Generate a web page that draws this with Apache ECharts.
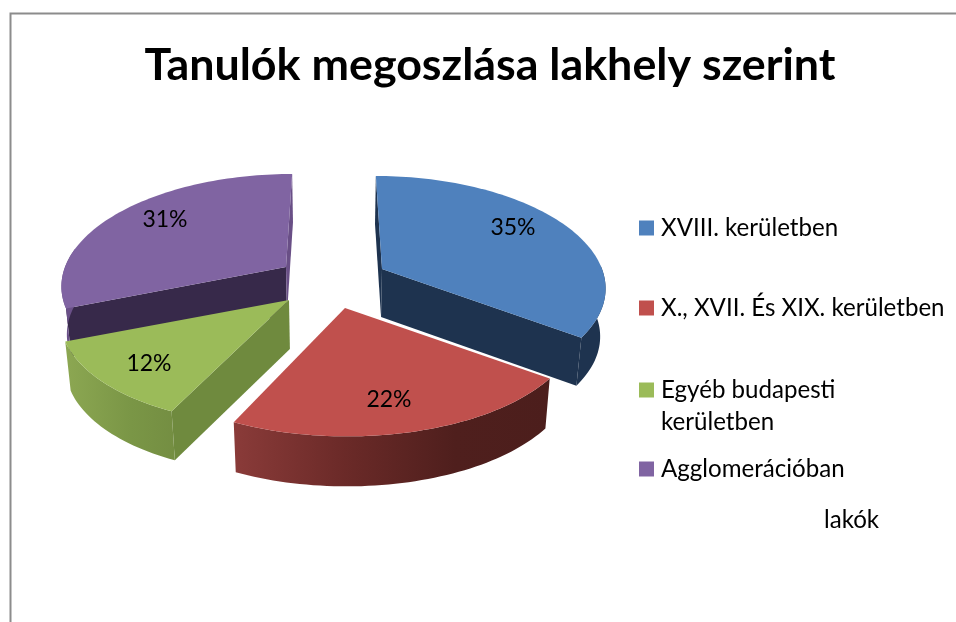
<!DOCTYPE html>
<html>
<head>
<meta charset="utf-8">
<style>html,body{margin:0;padding:0;background:#fff}#c{width:956px;height:622px}</style>
<script src="https://cdn.jsdelivr.net/npm/echarts@6/dist/echarts.min.js"></script>
</head>
<body>
<div id="c"></div>
<script>
var titleText = 'Tanulók megoszlása lakhely szerint';
var categories = ['XVIII. kerületben', 'X., XVII. És XIX. kerületben', 'Egyéb budapesti\nkerületben', 'Agglomerációban'];
var shares = [35, 22, 12, 31];
var unitNote = 'lakók';

var FONT = 'Lato, Carlito, "Open Sans", sans-serif';
var colors = ['#4f81bd', '#c0504d', '#9bbb59', '#8064a2'];
var grad = function (stops) {
  return new echarts.graphic.LinearGradient(0, 0, 1, 0, stops.map(function (c) {
    return { offset: c[0], color: c[1] };
  }));
};
/* exploded position of each slice, its size, side shading and label anchor */
var sliceStyle = [
  { apex: [382, 269], rx: 220, ry: 106.7, depth: 48, z: 1, faceA: '#1e334f', faceB: '#1e334f', rim: '#1e334f', label: [513, 228] },
  { apex: [345, 308], rx: 230, ry: 109.5, depth: 50, z: 4, faceA: null, faceB: null,
    rim: grad([[0, '#8a3b39'], [0.35, '#6b2a28'], [0.7, '#4f1f1d'], [1, '#4c1e1c']]), label: [389, 400] },
  { apex: [289, 300], rx: 225, ry: 106.7, depth: 49, z: 3, faceA: '#6f8a3e', faceB: null,
    rim: grad([[0, '#8ca752'], [0.6, '#7a9646'], [1, '#748e42']]), label: [149, 364] },
  { apex: [286, 267], rx: 221, ry: 106.7, depth: 48, z: 2, faceA: '#37294a', faceB: '#694f86', rim: '#6a5088', label: [165, 220] }
];
var PERSP = 0.147, VANISH_X = 334, BOTTOM_SCALE = 0.98;

function project(st, tDeg, radius) {
  var t = tDeg * Math.PI / 180;
  var X = Math.sin(t) * radius, Y = -Math.cos(t) * radius;
  var s = 1 / (1 - PERSP * Y);
  return [VANISH_X + (st.apex[0] - VANISH_X + st.rx * X) * s, st.apex[1] + st.ry * Y * s];
}
function arc(st, a, b) {
  var pts = [], n = Math.max(2, Math.ceil(Math.abs(b - a) / 1.5));
  for (var i = 0; i <= n; i++) pts.push(project(st, a + (b - a) * i / n, 1));
  return pts;
}
function startAngle(index) {
  var total = shares.reduce(function (a, b) { return a + b; }, 0), sum = 0;
  for (var i = 0; i < index; i++) sum += shares[i];
  return sum / total * 360;
}
function renderSlice(index) {
  return function (params, api) {
    var st = sliceStyle[index];
    var total = shares.reduce(function (a, b) { return a + b; }, 0);
    var t0 = startAngle(index), t1 = t0 + api.value(0) / total * 360;
    var top = project(st, 0, 0);
    var pA = project(st, t0, 1), pB = project(st, t1, 1);
    var children = [];
    function drop(p) {
      return [VANISH_X + (p[0] - VANISH_X) * BOTTOM_SCALE, p[1] + st.depth];
    }
    function quad(a, b, fill) {
      if (!fill) return;
      children.push({ type: 'polygon', silent: true, shape: { points: [a, b, drop(b), drop(a)] }, style: { fill: fill } });
    }
    quad(top, pA, st.faceA);
    quad(top, pB, st.faceB);
    var r0 = Math.max(t0, 88), r1 = Math.min(t1, 280);
    if (r1 > r0) {
      var edge = arc(st, r0, r1);
      children.push({ type: 'polygon', silent: true,
        shape: { points: edge.concat(edge.slice().reverse().map(drop)) }, style: { fill: st.rim } });
    }
    children.push({ type: 'polygon', silent: true,
      shape: { points: [top].concat(arc(st, t0, t1)) }, style: { fill: colors[index] } });
    children.push({ type: 'text', silent: true, style: {
      text: api.value(0) + '%', x: st.label[0], y: st.label[1], align: 'center', verticalAlign: 'middle',
      fill: '#000', fontSize: 23, fontFamily: FONT } });
    return { type: 'group', children: children };
  };
}

var legendTop = [212, 292, 342, 453];
var chart = echarts.init(document.getElementById('c'), null, { renderer: 'canvas' });
chart.setOption({
  animation: false,
  backgroundColor: '#fff',
  color: colors,
  title: { text: titleText, left: 485, top: 38, textAlign: 'center',
    textStyle: { fontFamily: FONT, fontWeight: 'bold', fontSize: 44.8, color: '#000' } },
  legend: categories.map(function (name, i) {
    return {
      data: [name], left: 639, top: legendTop[i], orient: 'vertical', padding: 0,
      icon: 'rect', itemWidth: 15, itemHeight: 15, itemGap: 0, selectedMode: false,
      formatter: i === 2 ? '\u00a0\n{name}' : '{name}',
      textStyle: { fontFamily: FONT, fontSize: 24.1, color: '#000', lineHeight: 32, padding: [0, 0, 0, 2] }
    };
  }),
  series: categories.map(function (name, i) {
    return {
      type: 'custom', name: name, coordinateSystem: 'none', z: sliceStyle[i].z,
      itemStyle: { color: colors[i] }, data: [[shares[i]]], renderItem: renderSlice(i)
    };
  }),
  graphic: [
    { type: 'polyline', silent: true, shape: { points: [[10.5, 622], [10.5, 13.5], [956, 13.5]] },
      style: { stroke: '#8c8c8c', lineWidth: 2, fill: null } },
    { type: 'text', silent: true, style: { text: unitNote, x: 824, y: 520, verticalAlign: 'middle',
      fontFamily: FONT, fontSize: 24.1, fill: '#000' } }
  ]
});
</script>
</body>
</html>
